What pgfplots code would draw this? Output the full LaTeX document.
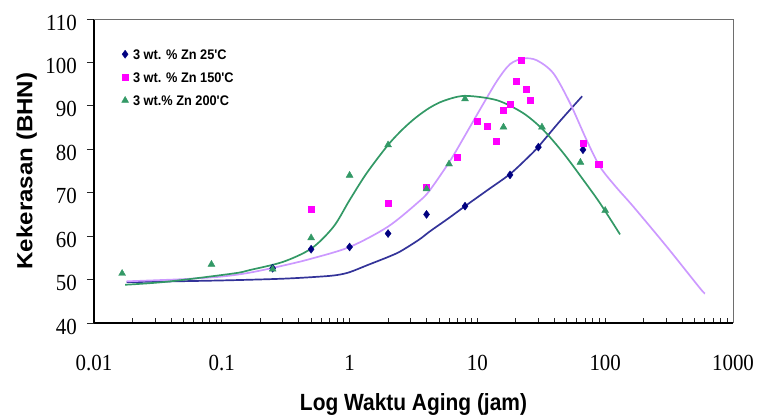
\documentclass[border=0pt]{standalone}
\usepackage{fontspec}
\setmainfont{Liberation Serif}
\setsansfont{Liberation Sans}
\usepackage{pgfplots}
\pgfplotsset{compat=1.18}
\definecolor{navymark}{HTML}{000080}
\definecolor{navyline}{HTML}{333399}
\definecolor{lav}{HTML}{CC99FF}
\definecolor{grn}{HTML}{339966}
\definecolor{mag}{HTML}{FF00FF}
\definecolor{frame}{HTML}{6E6E6E}
\newcommand{\vs}[1]{\scalebox{1}[1.1]{#1}}
\pgfplotsset{myleg/.style={legend image code/.code={\draw[##1] plot coordinates {(0bp,0bp)};}}}
\begin{document}
\begin{tikzpicture}
\useasboundingbox (0bp,0bp) rectangle (757bp,416bp);
\begin{axis}[
 at={(94bp,93bp)}, anchor=south west,
 scale only axis, width=639bp, height=304bp,
 xmode=log, xmin=0.01, xmax=1000, ymin=40, ymax=110,
 enlargelimits=false, clip=false,
 axis lines=left, axis line style={-, line width=1.2bp, black},
 tick align=inside,
 xtick={0.01,0.1,1,10,100,1000},
 xticklabels={\vs{0.01},\vs{0.1},\vs{1},\vs{10},\vs{100},\vs{1000}},
 minor xtick={0.02,0.03,0.04,0.05,0.06,0.07,0.08,0.09,0.1,0.2,0.3,0.4,0.5,0.6,0.7,0.8,0.9,1,2,3,4,5,6,7,8,9,10,20,30,40,50,60,70,80,90,100,200,300,400,500,600,700,800,900},
 ytick={40,50,60,70,80,90,100,110},
 yticklabels={\vs{40},\vs{50},\vs{60},\vs{70},\vs{80},\vs{90},\vs{100},\vs{110}},
 major tick length=7bp, minor tick length=5bp,
 tick style={black!85, line width=0.8bp},
 major x tick style={draw=none},
 y tick style={xshift=-7bp},
 x tick label style={font=\fontsize{21}{24}\selectfont, anchor=north, inner sep=0pt, yshift=-32bp},
 y tick label style={font=\fontsize{21}{24}\selectfont, anchor=east, inner sep=0pt, xshift=-17bp, yshift=-3.5bp},
 xlabel={\scalebox{1}[1.12]{Log Waktu Aging (jam)}},
 xlabel style={font=\sffamily\bfseries\fontsize{21}{24}\selectfont, at={(axis description cs:0.5,0)}, anchor=base, yshift=-87bp, inner sep=0pt},
 ylabel={\scalebox{1.1}[1]{Kekerasan (BHN)}},
 ylabel style={font=\sffamily\bfseries\fontsize{22}{26}\selectfont, at={([xshift=-61.7bp]axis description cs:0,0.5)}, rotate=0, anchor=base, inner sep=0pt},
 legend style={at={(0.043,0.904)}, anchor=north west, draw=none, fill=none, inner sep=0pt, row sep=11.4bp, column sep=3.5bp, font=\sffamily\bfseries\fontsize{12.8}{14}\selectfont, nodes={inner sep=1bp, text depth=0pt}},
 legend cell align=left,
]
% fitted curves
\addplot[navyline, line width=1.7bp, smooth, tension=0.5, forget plot] coordinates {
 (0.018,49.4) (0.1,49.8) (0.3,50.2) (0.6,50.7) (0.8,51.05) (1.0,51.7) (1.4,53.4) (2,55.2) (2.5,56.5) (3.5,59.2) (4.25,61.1) (6,64.2) (8,66.9) (12,70.6) (18,74.3) (25,78.2) (30,80.6) (44,86.4) (66,92.2)};
\addplot[lav, line width=1.7bp, smooth, tension=0.5, forget plot] coordinates {
 (0.018,49.6) (0.05,50.1) (0.1,50.7) (0.166,51.6) (0.3,53.2) (0.5,54.8) (1,57.5) (2,62.2) (3.5,68.0) (4.25,70.6) (6.1,77.3) (7.76,82.5) (10.5,89.2) (14.2,95.7) (18,99.6) (22.9,100.9) (29.1,100.5) (39.3,97.5) (53.1,90.6) (71.6,82.1) (91,76.0) (120,71.5) (166,66.8) (302.6,57.6) (552,48.0) (604,46.8)};
\addplot[grn, line width=1.7bp, smooth, tension=0.5, forget plot] coordinates {
 (0.0175,48.8) (0.037,49.5) (0.123,51.4) (0.166,52.2) (0.303,54.1) (0.505,57.2) (0.75,62.2) (1,68.3) (1.36,74.5) (2,81.0) (2.6,84.6) (3.3,87.3) (4.25,89.6) (5.5,91.2) (8,92.3) (14.2,91.3) (22.9,88.3) (32.9,84.4) (47.1,79.1) (67.6,72.9) (91,67.6) (130.6,60.4)};
% data points
\addplot[only marks, mark=diamond*, mark size=4bp, color=navymark, myleg] coordinates {
 (0.25,52.6) (0.5,57.0) (1,57.5) (2,60.6) (4,65.0) (8,66.9) (18,74.1) (30,80.5) (67,79.9)};
\addlegendentry{\scalebox{1}[1.09]{3 wt. \% Zn 25\textquotesingle C}}
\addplot[only marks, mark=square*, mark size=3.1bp, color=mag, myleg] coordinates {
 (0.5,66.2) (2,67.6) (4,71.3) (7,78.2) (10,86.4) (12,85.3) (14,81.9) (16,89.0) (18,90.4) (20,95.6) (22,100.6) (24,93.9) (26,91.3) (67,81.4) (89,76.5)};
\addlegendentry{\scalebox{1}[1.09]{3 wt. \% Zn 150\textquotesingle C}}
\addplot[only marks, mark=triangle*, mark size=4bp, color=grn, myleg] coordinates {
 (0.0166,51.4) (0.083,53.5) (0.25,52.4) (0.5,59.6) (1,74.0) (2,81.0) (4,70.9) (6,76.6) (8,91.6) (16,85.1) (32,85.1) (64,77.0) (100,65.9)};
\addlegendentry{\scalebox{1}[1.09]{3 wt.\% Zn 200\textquotesingle C}}
\draw[frame, line width=0.9bp] (rel axis cs:0,1) -- (rel axis cs:1,1) -- (rel axis cs:1,0);
\end{axis}
\end{tikzpicture}
\end{document}
